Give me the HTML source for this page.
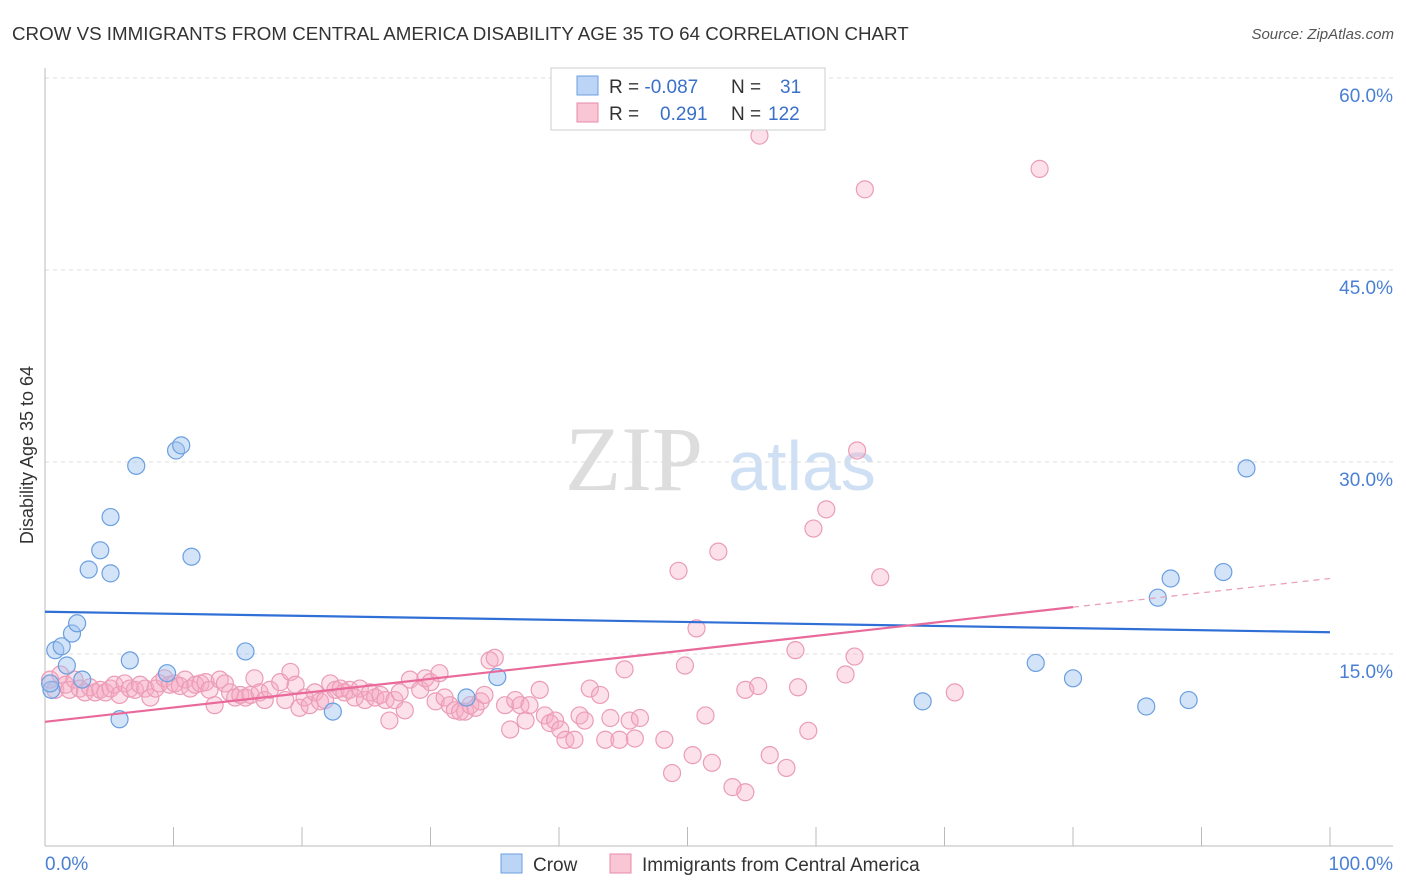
<!DOCTYPE html>
<html><head><meta charset="utf-8"><style>
body{margin:0;background:#fff;font-family:"Liberation Sans",sans-serif}
svg{display:block}
</style></head><body>
<svg width="1406" height="892" xmlns="http://www.w3.org/2000/svg" id="chart">
<text x="12" y="40" font-size="18.75" fill="#333">CROW VS IMMIGRANTS FROM CENTRAL AMERICA DISABILITY AGE 35 TO 64 CORRELATION CHART</text>
<text x="1394" y="39" font-size="15" fill="#555" text-anchor="end" font-style="italic">Source: ZipAtlas.com</text>
<g>
<text x="634" y="490" font-size="92" fill="#ddd" text-anchor="middle" font-family="Liberation Serif,serif">ZIP</text>
<text x="802" y="490" font-size="70" fill="#cfe0f4" text-anchor="middle">atlas</text>
</g>
<g id="grid"></g>
<g id="axes"></g>
<g id="marks"></g>
<text transform="translate(33,455) rotate(-90)" font-size="18" fill="#333" text-anchor="middle">Disability Age 35 to 64</text>
<g>
<rect x="551" y="68" width="274" height="62" fill="#fff" stroke="#ccc"/>
<rect x="577" y="76" width="21" height="19" fill="#bcd4f5" stroke="#6a9fe0"/>
<rect x="577" y="103" width="21" height="19" fill="#f9c6d5" stroke="#e88aa8"/>
<text x="609" y="93" font-size="19" fill="#333">R = <tspan fill="#3a70c8">-0.087</tspan><tspan x="731">N =</tspan><tspan x="780" fill="#3a70c8">31</tspan></text>
<text x="609" y="120" font-size="19" fill="#333">R = <tspan x="660" fill="#3a70c8">0.291</tspan><tspan x="731">N =</tspan><tspan x="768" fill="#3a70c8">122</tspan></text>
</g>
<g>
<rect x="501" y="854" width="21" height="19" fill="#bcd4f5" stroke="#6a9fe0"/>
<text x="533" y="871" font-size="19" fill="#333">Crow</text>
<rect x="610" y="854" width="21" height="19" fill="#f9c6d5" stroke="#e88aa8"/>
<text x="642" y="871" font-size="19" fill="#333">Immigrants from Central America</text>
</g>
</svg>
<script>
const yTicks=[15,30,45,60];
const yTickLabels=["15.0%","30.0%","45.0%","60.0%"];
const xEndLabels=["0.0%","100.0%"];
const crowX=[0.5,0.8,1.3,2.1,2.5,1.7,2.9,3.4,4.3,5.1,5.1,5.8,6.6,7.1,9.5,10.2,10.6,11.4,15.6,22.4,32.8,35.2,68.3,77.1,80.0,85.7,86.6,87.6,89.0,91.7,93.5,0.4];
const crowY=[12.2,15.3,15.6,16.6,17.4,14.1,13.0,21.6,23.1,25.7,21.3,9.9,14.5,29.7,13.5,30.9,31.3,22.6,15.2,10.5,11.6,13.2,11.3,14.3,13.1,10.9,19.4,20.9,11.4,21.4,29.5,12.7];
const immX=[0.4,0.8,1.2,1.6,1.9,2.3,2.7,3.1,3.5,3.9,4.3,4.7,5.1,5.4,5.8,6.2,6.6,7.0,7.4,7.8,8.2,8.6,8.9,9.3,9.7,10.1,10.5,10.9,11.3,11.7,12.1,12.5,12.8,13.2,13.6,14.0,14.4,14.8,15.2,15.6,16.0,16.3,16.7,17.1,17.5,18.3,18.7,19.1,19.5,19.8,20.2,20.6,21.0,21.4,21.8,22.2,22.6,23.0,23.3,23.7,24.1,24.5,24.9,25.3,25.7,26.1,26.5,26.8,27.2,27.6,28.0,28.4,29.2,29.6,30.0,30.4,30.7,31.1,31.5,31.9,32.3,32.7,33.1,33.5,33.9,34.2,34.6,35.0,35.8,36.2,36.6,37.0,37.4,37.7,38.5,38.9,39.3,39.7,40.1,40.5,41.2,41.6,42.0,42.4,43.2,43.6,44.0,44.7,45.1,45.5,45.9,46.3,48.2,48.8,49.3,49.8,50.4,50.7,51.4,51.9,52.4,53.5,54.5,54.5,55.5,55.6,56.4,57.7,58.4,58.6,59.4,59.8,60.8,62.3,63.0,63.2,63.8,65.0,70.8,77.4];
const immY=[13.0,12.2,13.4,12.6,12.2,13.0,12.3,12.0,12.4,12.0,12.2,12.0,12.3,12.6,11.8,12.7,12.3,12.2,12.6,12.3,11.6,12.3,12.7,13.1,12.6,12.7,12.5,13.0,12.3,12.6,12.7,12.8,12.2,11.0,13.0,12.7,12.0,11.6,11.8,11.6,11.8,13.1,12.0,11.4,12.2,12.8,11.4,13.6,12.6,10.8,11.6,11.0,12.0,11.3,11.4,12.7,12.2,12.3,12.0,12.2,11.6,12.3,11.4,12.0,11.6,11.8,11.4,9.8,11.4,12.0,10.6,13.0,12.2,13.1,12.8,11.3,13.5,11.6,11.0,10.6,10.5,10.5,11.0,10.8,11.3,11.8,14.5,14.7,11.0,9.1,11.4,11.0,9.8,11.0,12.2,10.2,9.6,9.8,9.1,8.3,8.3,10.2,9.8,12.3,11.8,8.3,10.0,8.3,13.8,9.8,8.4,10.0,8.3,5.7,21.5,14.1,7.1,17.0,10.2,6.5,23.0,4.6,4.2,12.2,12.5,55.5,7.1,6.1,15.3,12.4,9.0,24.8,26.3,13.4,14.8,30.9,51.3,21.0,12.0,52.9];
const crowTrend=[18.3,16.7];
const immTrend=[9.7,20.9];
const immTrendSolidEnd=80;

const NS="http://www.w3.org/2000/svg";
const X0=45,X1=1330,Y0=846,PXPER=12.8;
const xs=v=>X0+(X1-X0)*v/100;
const ys=v=>Y0-v*PXPER;
function mk(tag,attrs,parent){const e=document.createElementNS(NS,tag);for(const k in attrs)e.setAttribute(k,attrs[k]);document.getElementById(parent).appendChild(e);return e;}

yTicks.forEach((t,i)=>{
 const g=mk('line',{x1:X0,x2:1393,y1:ys(t),y2:ys(t),stroke:'#ddd','stroke-dasharray':'4,4'},'grid');
 
 
 const l=mk('text',{x:1393,y:ys(t)+24,'font-size':19,fill:'#4a7fd4','text-anchor':'end'},'axes');
 l.textContent=yTickLabels[i];
 
 
});
const ax=mk('line',{x1:X0,x2:X0,y1:68,y2:846,stroke:'#bbb'},'axes');


const bx=mk('line',{x1:X0,x2:1393,y1:846,y2:846,stroke:'#bbb'},'axes');


for(let i=0;i<=10;i++){
 const t=mk('line',{x1:xs(i*10),x2:xs(i*10),y1:827,y2:846,stroke:'#bbb'},'axes');
 
 
}
[[0,'start',45],[1,'end',1393]].forEach(([i,a,x])=>{
 const l=mk('text',{x:x,y:870,'font-size':19,fill:'#4a7fd4','text-anchor':a},'axes');
 l.textContent=xEndLabels[i];
 
 
});
immX.forEach((v,i)=>{
 const c=mk('circle',{cx:xs(v),cy:ys(immY[i]),r:8.5,fill:'rgba(245,170,195,0.35)',stroke:'#eb9cb6','stroke-width':1.2},'marks');
 
 
});
crowX.forEach((v,i)=>{
 const c=mk('circle',{cx:xs(v),cy:ys(crowY[i]),r:8.5,fill:'rgba(160,195,240,0.45)',stroke:'#6a9fe0','stroke-width':1.2},'marks');
 
 
});
const cl=mk('line',{x1:xs(0),y1:ys(crowTrend[0]),x2:xs(100),y2:ys(crowTrend[1]),stroke:'#2f6fd6','stroke-width':2.2},'marks');


const midY=immTrend[0]+(immTrend[1]-immTrend[0])*immTrendSolidEnd/100;
const pl=mk('line',{x1:xs(0),y1:ys(immTrend[0]),x2:xs(immTrendSolidEnd),y2:ys(midY),stroke:'#e8699a','stroke-width':2.2},'marks');


const pd=mk('line',{x1:xs(immTrendSolidEnd),y1:ys(midY),x2:xs(100),y2:ys(immTrend[1]),stroke:'#eaa0ba','stroke-width':1.3,'stroke-dasharray':'6,5'},'marks');


</script>
</body></html>
